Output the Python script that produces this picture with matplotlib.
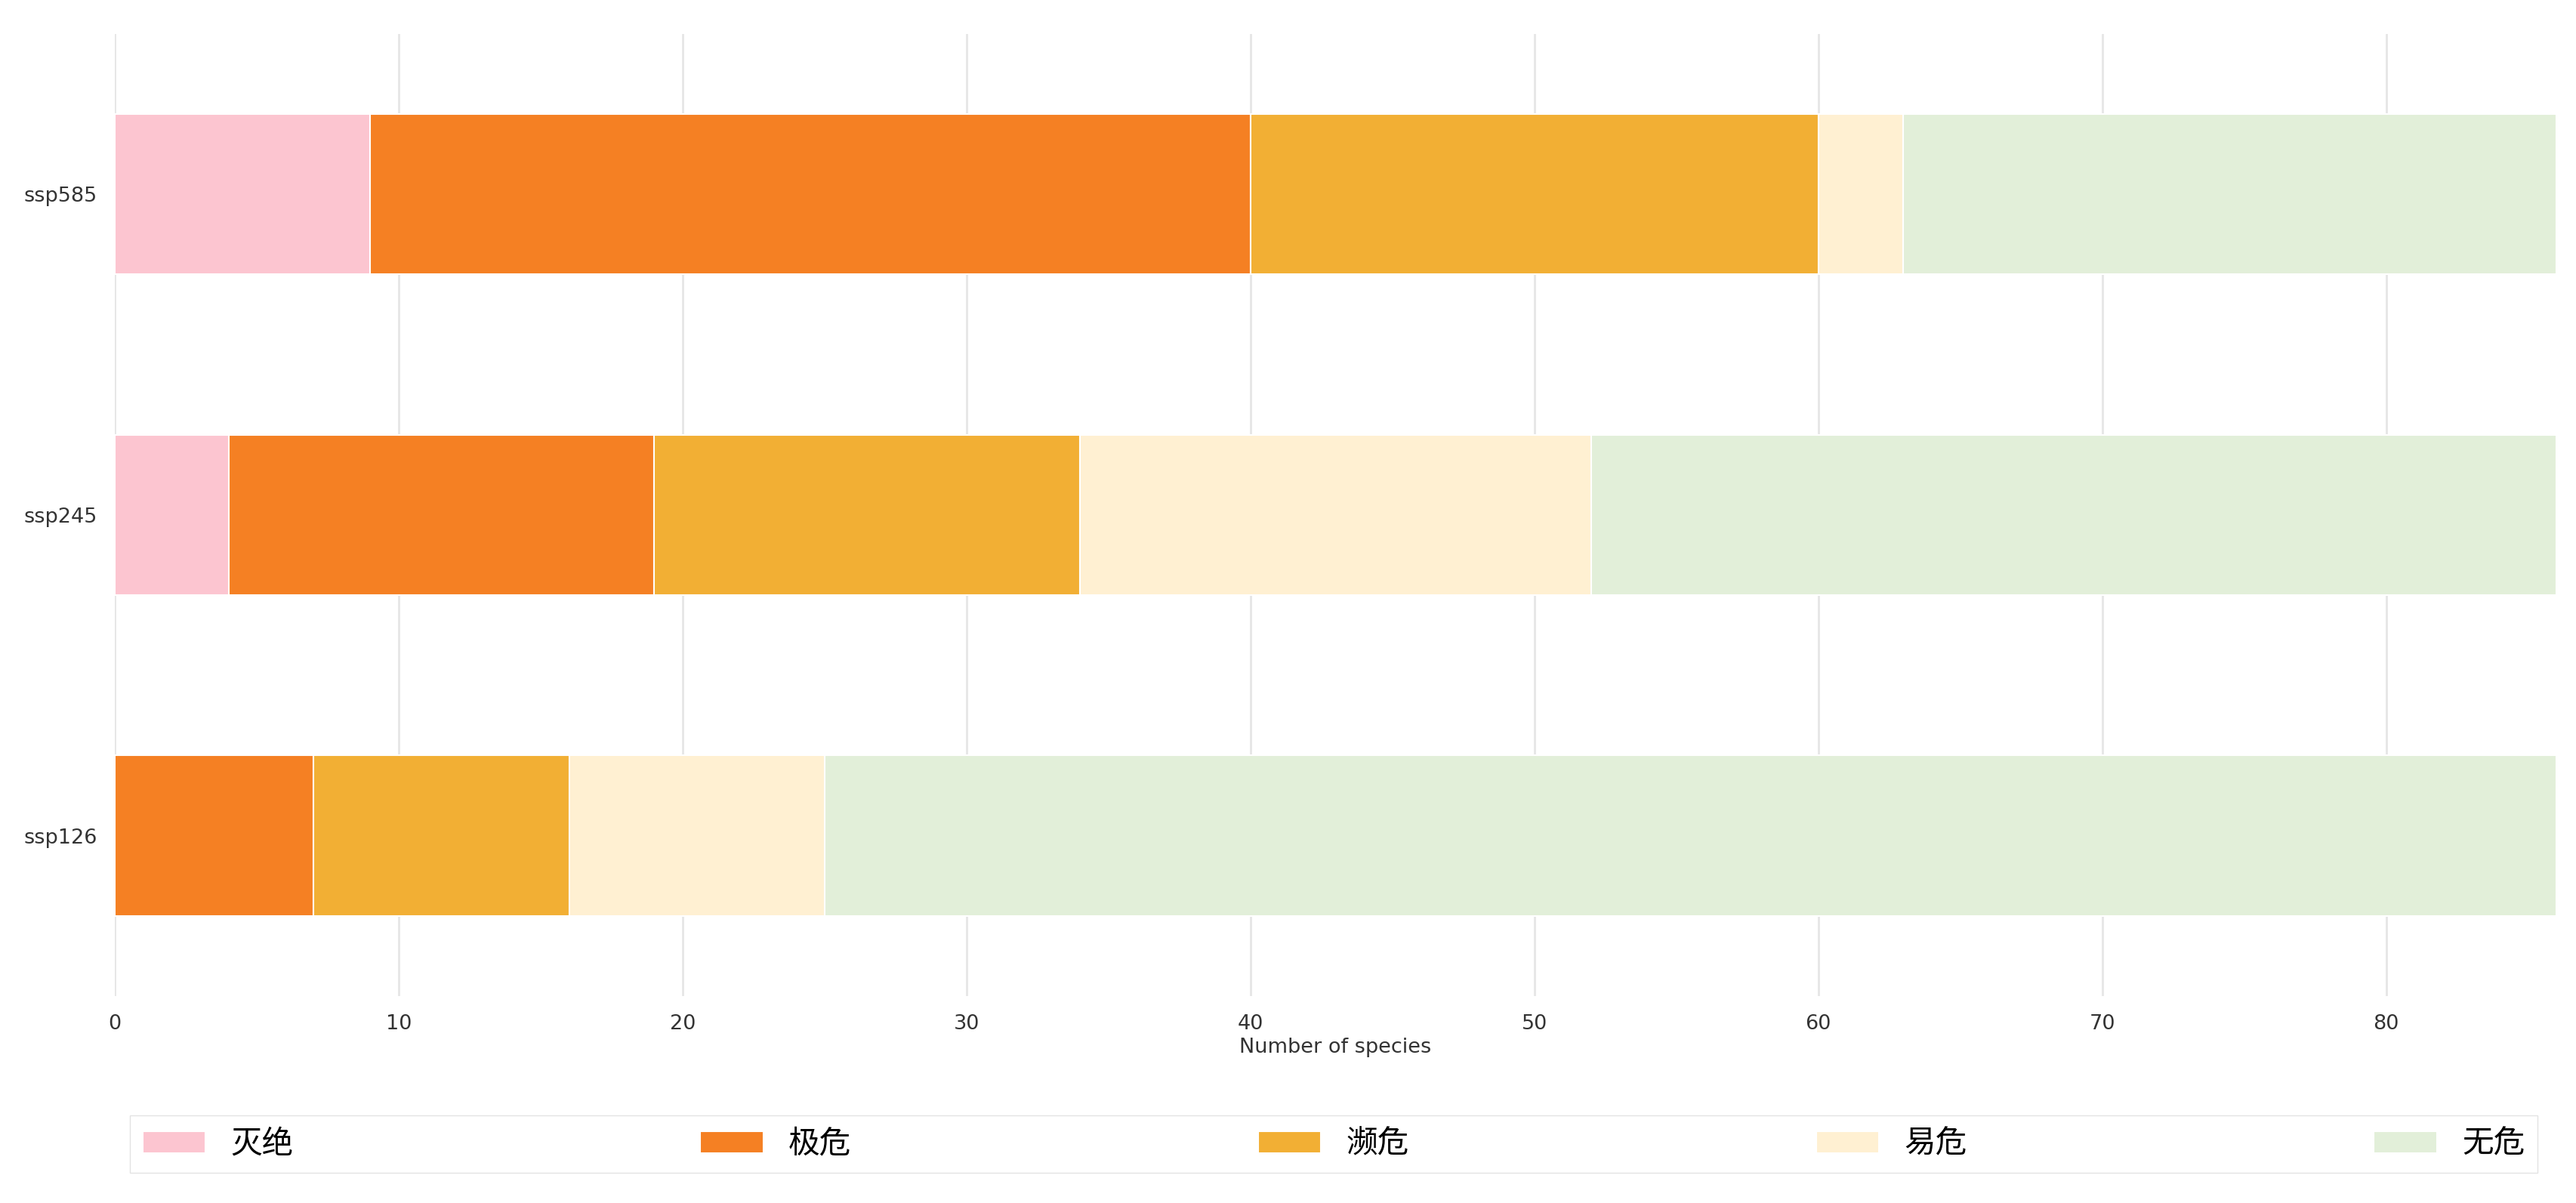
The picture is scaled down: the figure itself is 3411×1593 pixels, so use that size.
import numpy as np
import matplotlib
matplotlib.use("Agg")
import matplotlib.pyplot as plt

plt.rcParams['font.family'] = ['DejaVu Sans', 'Noto Sans CJK SC']

scenarios = ['ssp126', 'ssp245', 'ssp585']
levels = ['灭绝', '极危', '濒危', '易危', '无危']
extinct = [0, 4, 9]
critically = [7, 15, 31]
endangered = [9, 15, 20]
vulnerable = [9, 18, 3]
least = [61, 34, 23]
colors = ['#FCC5D0', '#F58023', '#F2AF34', '#FFF0D2', '#E2EFD9']

series = [extinct, critically, endangered, vulnerable, least]

fig = plt.figure(figsize=(34.11, 15.93), dpi=100)
ax = fig.add_axes([0.0446, 0.172, 0.9478, 0.800])

y = np.arange(len(scenarios))
left = np.zeros(len(scenarios))
for name, vals, col in zip(levels, series, colors):
    vals = np.array(vals, dtype=float)
    ax.barh(y, vals, left=left, height=0.5, color=col, label=name,
            edgecolor='white', linewidth=1.5, zorder=2)
    left += vals

ax.set_xlim(0, 86)
ax.set_ylim(-0.5, 2.5)
ax.set_yticks(y)
ax.set_yticklabels(scenarios)
ax.set_xticks(np.arange(0, 90, 10))
ax.tick_params(axis='both', length=0, pad=17, labelsize=19.5, colors='#333333')
ax.set_xlabel('Number of species', fontsize=19.5, color='#333333', labelpad=4)
ax.grid(axis='x', color='#e6e6e6', linewidth=2, zorder=0)
ax.grid(axis='y', visible=False)
ax.set_axisbelow(True)
for s in ax.spines.values():
    s.set_visible(False)

fig.legend(loc='center', bbox_to_anchor=(0.0504, 0.049, 0.9346, 0.0),
           bbox_transform=fig.transFigure, mode='expand', ncol=5,
           fontsize=30, frameon=True, edgecolor='#dddddd', fancybox=False,
           borderaxespad=0, handlelength=2.0, handleheight=0.7)

fig.savefig('out.png', dpi=100, facecolor='white')
